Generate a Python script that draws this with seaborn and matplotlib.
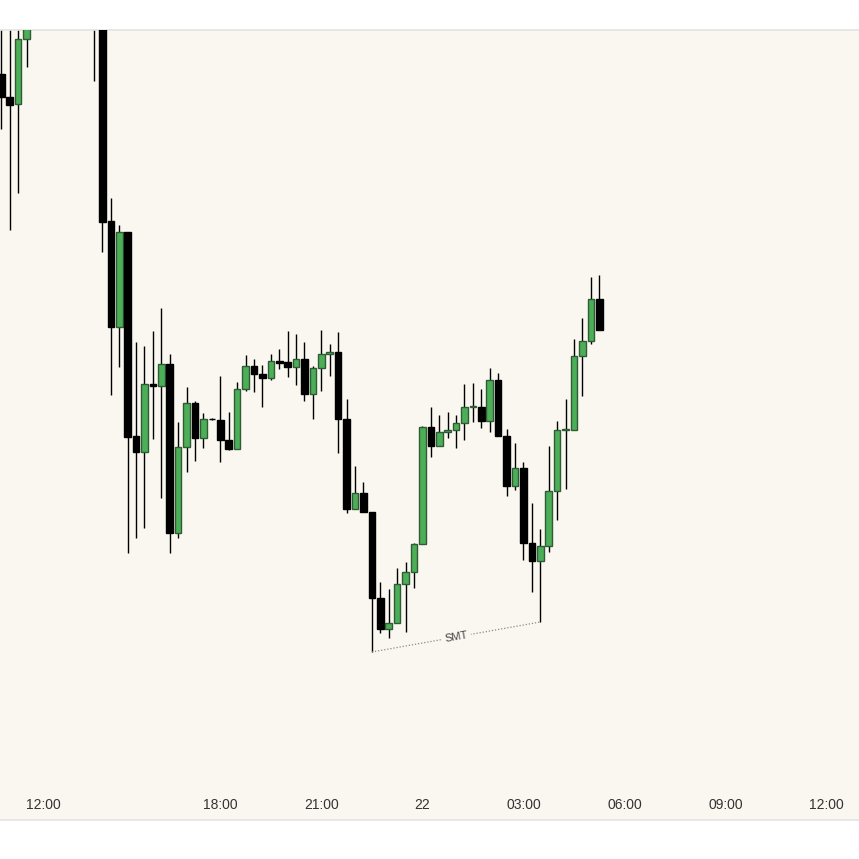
import numpy as np
import pandas as pd
import matplotlib
matplotlib.use("Agg")
import matplotlib.pyplot as plt
import seaborn as sns

# 15-minute candles, bar index 0 = 18:00 (session open)
bar_index = list(range(-26, 46))

opens = [
    19789.0, 19783.25, 19781.5, 19797.75, 19805.0, 19818.0, 19826.0, 19822.0,
    19831.0, 19820.0, 19810.0, 19815.0, 19804.0, 19752.25, 19725.75, 19749.5,
    19698.5, 19694.5, 19711.5, 19711.0, 19716.5, 19674.25, 19695.75, 19706.75,
    19698.0, 19702.75, 19702.5, 19697.5, 19695.25, 19710.25, 19716.0, 19714.0,
    19713.0, 19717.25, 19717.0, 19715.75, 19717.75, 19709.0, 19715.5, 19719.0,
    19719.5, 19702.75, 19680.25, 19684.25, 19679.5, 19658.0, 19650.25, 19651.75,
    19661.5, 19664.5, 19671.5, 19700.75, 19696.0, 19699.5, 19700.0, 19701.75,
    19705.75, 19705.75, 19702.25, 19712.5, 19698.5, 19686.0, 19690.5, 19671.75,
    19667.25, 19671.0, 19684.75, 19700.0, 19700.0, 19718.5, 19722.25, 19732.75,
]
highs = [
    19806.0, 19803.0, 19804.0, 19808.0, 19822.0, 19830.0, 19838.0, 19834.0,
    19840.0, 19826.0, 19818.0, 19820.0, 19808.0, 19758.0, 19751.25, 19749.5,
    19722.0, 19721.0, 19724.75, 19730.5, 19719.0, 19702.0, 19710.75, 19707.25,
    19704.25, 19703.0, 19713.5, 19704.5, 19712.0, 19718.75, 19717.75, 19716.25,
    19719.0, 19720.25, 19724.75, 19724.0, 19722.0, 19716.0, 19725.0, 19721.5,
    19724.5, 19707.75, 19691.0, 19687.0, 19679.5, 19662.0, 19660.25, 19665.5,
    19667.0, 19671.75, 19701.0, 19705.75, 19703.75, 19704.5, 19703.75, 19711.5,
    19711.75, 19710.25, 19715.5, 19714.25, 19700.25, 19696.75, 19692.0, 19681.75,
    19675.25, 19696.0, 19702.25, 19707.75, 19722.75, 19728.0, 19738.25, 19738.75,
]
lows = [
    19775.25, 19750.0, 19759.25, 19790.75, 19801.0, 19812.0, 19820.0, 19815.0,
    19818.0, 19806.0, 19801.0, 19787.25, 19744.5, 19708.75, 19715.75, 19669.25,
    19673.0, 19675.5, 19697.75, 19683.0, 19669.25, 19673.0, 19689.5, 19692.25,
    19695.5, 19702.5, 19692.0, 19695.0, 19695.25, 19709.75, 19709.5, 19705.75,
    19712.5, 19715.25, 19713.25, 19711.25, 19707.25, 19702.75, 19709.75, 19713.5,
    19694.25, 19679.25, 19680.25, 19679.5, 19644.5, 19649.25, 19648.0, 19651.75,
    19649.5, 19660.5, 19671.5, 19693.25, 19696.0, 19698.0, 19695.5, 19697.5,
    19702.0, 19700.5, 19699.5, 19698.5, 19683.5, 19685.0, 19667.5, 19659.5,
    19652.0, 19669.5, 19677.5, 19685.25, 19700.0, 19708.5, 19721.5, 19725.0,
]
closes = [
    19783.25, 19781.25, 19797.75, 19805.0, 19818.0, 19826.0, 19822.0, 19831.0,
    19820.0, 19810.0, 19815.0, 19804.0, 19752.0, 19725.75, 19749.5, 19698.25,
    19694.5, 19711.5, 19711.0, 19716.5, 19674.25, 19695.75, 19706.75, 19698.0,
    19702.75, 19702.75, 19697.5, 19695.25, 19710.25, 19716.0, 19714.0, 19713.0,
    19717.25, 19716.75, 19715.75, 19717.75, 19709.0, 19715.5, 19719.0, 19719.5,
    19702.75, 19680.25, 19684.25, 19679.5, 19658.0, 19650.25, 19651.75, 19661.5,
    19664.5, 19671.5, 19700.75, 19696.0, 19699.5, 19700.0, 19701.75, 19705.75,
    19706.0, 19702.25, 19712.5, 19698.5, 19686.0, 19690.5, 19671.75, 19667.25,
    19671.0, 19684.75, 19700.0, 19700.25, 19718.5, 19722.25, 19732.75, 19725.0,
]

time_labels = ["12:00", "18:00", "21:00", "22", "03:00", "06:00", "09:00", "12:00"]
label_bars = [-21, 0, 12, 24, 36, 48, 60, 72]

# SMT divergence: the two swing lows it connects
smt_bars = [18, 38]

df = pd.DataFrame({"bar": bar_index, "open": opens, "high": highs,
                   "low": lows, "close": closes})
df["up"] = df["close"] > df["open"]

BG = "#faf7f0"
GREEN = "#4caf57"
GREEN_EDGE = "#2f5c36"

sns.set_style("white")
plt.rcParams["font.family"] = ["Liberation Sans", "DejaVu Sans"]

fig = plt.figure(figsize=(8.59, 8.59), dpi=100, facecolor="white")
ax = fig.add_axes([0, 39 / 859, 1, 790 / 859])
ax.set_facecolor(BG)

# wicks
ax.vlines(df["bar"], df["low"], df["high"], color="black", linewidth=1.0, zorder=2)

# bodies
body_lo = df[["open", "close"]].min(axis=1)
body_h = (df["open"] - df["close"]).abs().clip(lower=0.12)
colors = np.where(df["up"], GREEN, "black")
edges = np.where(df["up"], GREEN_EDGE, "black")
ax.bar(df["bar"], body_h, bottom=body_lo, width=0.78, color=colors,
       edgecolor=edges, linewidth=1.0, zorder=3)

ax.set_xlim(-26.16, 75.85)
ax.set_ylim(19602.5, 19800.0)

# SMT line between the two lows
s = df.set_index("bar")
x0, x1 = smt_bars
y0, y1 = s.loc[x0, "low"], s.loc[x1, "low"]
ax.plot([x0, x1], [y0, y1], linestyle=(0, (1, 1.5)), color="#8a8a8a",
        linewidth=0.9, zorder=2)
p0 = ax.transData.transform((x0, y0))
p1 = ax.transData.transform((x1, y1))
ang = np.degrees(np.arctan2(p1[1] - p0[1], p1[0] - p0[0]))
xm = x0 + (x1 - x0) * 0.5
ym = y0 + (y1 - y0) * 0.5
ax.text(xm, ym, "SMT", rotation=ang, rotation_mode="anchor", ha="center",
        va="center", fontsize=8, color="#444444", zorder=4,
        bbox=dict(facecolor=BG, edgecolor="none", pad=2.5))

ax.set_xticks(label_bars)
ax.set_xticklabels(time_labels)
ax.tick_params(axis="x", length=0, pad=-16, labelsize=10, labelcolor="#333333")
ax.set_yticks([])
ax.set_xlabel("")
ax.set_ylabel("")

for side in ["left", "right"]:
    ax.spines[side].set_visible(False)
for side in ["top", "bottom"]:
    ax.spines[side].set_color("#e3e3e3")
    ax.spines[side].set_linewidth(1.2)

fig.savefig("out.png", dpi=100, facecolor="white")
